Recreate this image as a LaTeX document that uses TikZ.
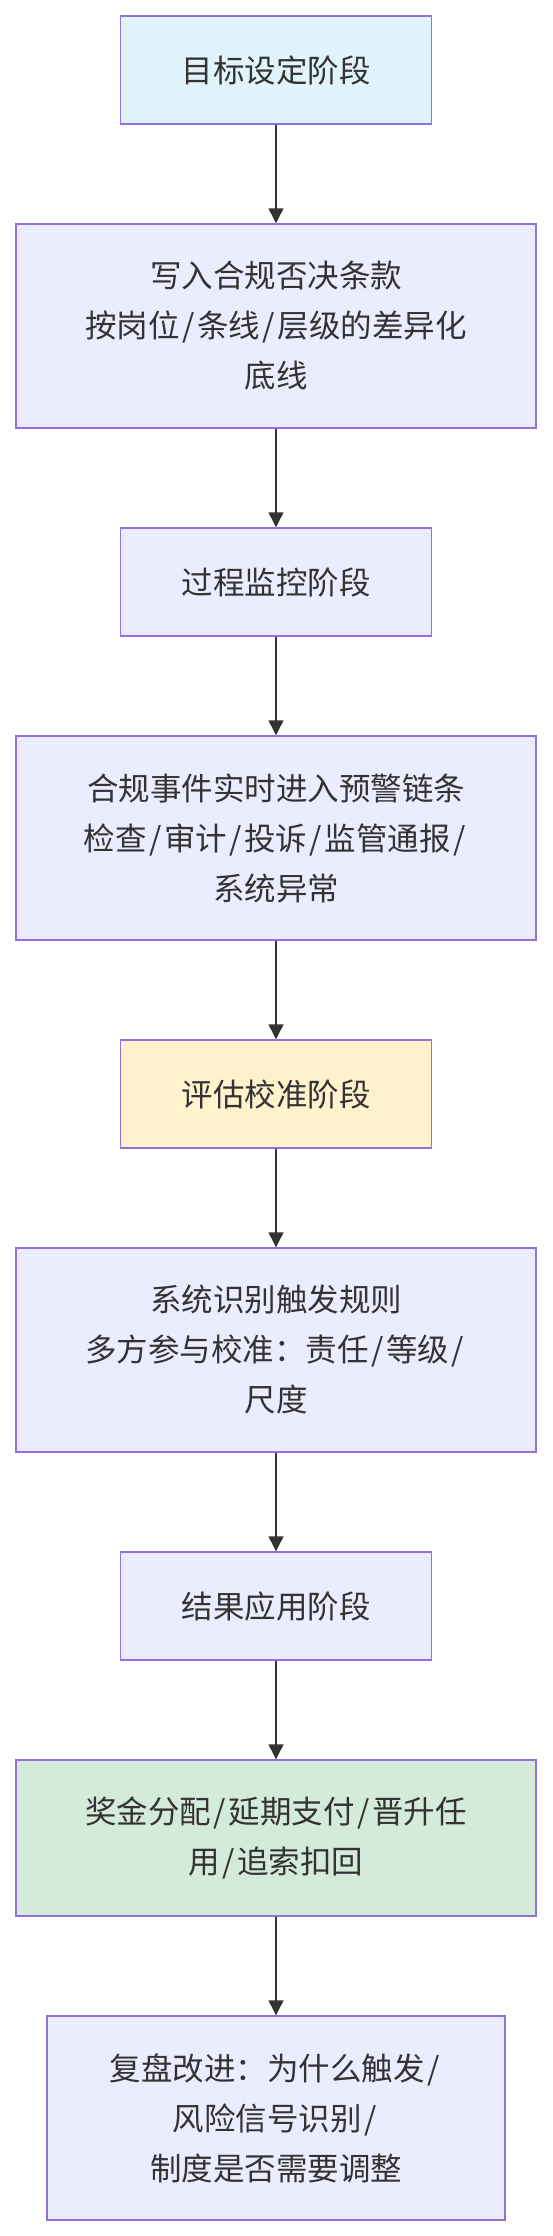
\documentclass[tikz,border=0pt]{standalone}
\usepackage{fontspec}
\setmainfont{Noto Sans CJK SC}
\usepackage{tikz}
\usetikzlibrary{
  arrows.meta,
  positioning
}
\definecolor{stageline}{HTML}{9370DB}
\definecolor{inkgray}{HTML}{333333}
\definecolor{stepfill}{HTML}{ECECFF}
\definecolor{goalfill}{HTML}{E1F4FC}
\definecolor{evalfill}{HTML}{FFF2CC}
\definecolor{usefill}{HTML}{D5EBDA}
\tikzset{
  stagebox/.style={draw=stageline, line width=1.5pt, fill=stepfill,
    text=inkgray, align=center, inner sep=0pt,
    font=\fontsize{31.5}{50}\selectfont},
  shortbox/.style={stagebox, minimum width=311pt, minimum height=108pt},
  widebox/.style={stagebox, minimum width=520pt},
  arr/.style={-{Triangle[length=15pt,width=15pt]}, line width=1.5pt, inkgray},
}
\newcommand{\slashgap}{\kern2.5pt/\kern2.5pt}

\begin{document}
\begin{tikzpicture}[x=1pt, y=1pt, node distance=98.5pt]
  \useasboundingbox (0,0) rectangle (552,-2236);

  \node[shortbox, fill=goalfill] (goal) at (276,-70) {目标设定阶段};
  \node[widebox, minimum height=204pt, below=of goal] (veto)
    {写入合规否决条款\\按岗位\slashgap 条线\slashgap 层级的差异化\\底线};
  \node[shortbox, below=of veto] (monitor) {过程监控阶段};
  \node[widebox, minimum height=204pt, below=of monitor] (alert)
    {合规事件实时进入预警链条\\检查\slashgap 审计\slashgap 投诉\slashgap 监管通报\slashgap\\系统异常};
  \node[shortbox, fill=evalfill, below=of alert] (assess) {评估校准阶段};
  \node[widebox, minimum height=204pt, below=of assess] (calib)
    {系统识别触发规则\\多方参与校准：责任\slashgap 等级\slashgap\\尺度};
  \node[shortbox, below=of calib] (apply) {结果应用阶段};
  \node[widebox, minimum height=156pt, fill=usefill, below=of apply] (payout)
    {奖金分配\slashgap 延期支付\slashgap 晋升任\\用\slashgap 追索扣回};
  \node[stagebox, minimum width=458pt, minimum height=204pt, below=of payout] (review)
    {复盘改进：为什么触发\slashgap\\风险信号识别\slashgap\\制度是否需要调整};

  % stage flow
  \draw[arr] (goal) -- (veto);
  \draw[arr] (veto) -- (monitor);
  \draw[arr] (monitor) -- (alert);
  \draw[arr] (alert) -- (assess);
  \draw[arr] (assess) -- (calib);
  \draw[arr] (calib) -- (apply);
  \draw[arr] (apply) -- (payout);
  \draw[arr] (payout) -- (review);
\end{tikzpicture}
\end{document}
